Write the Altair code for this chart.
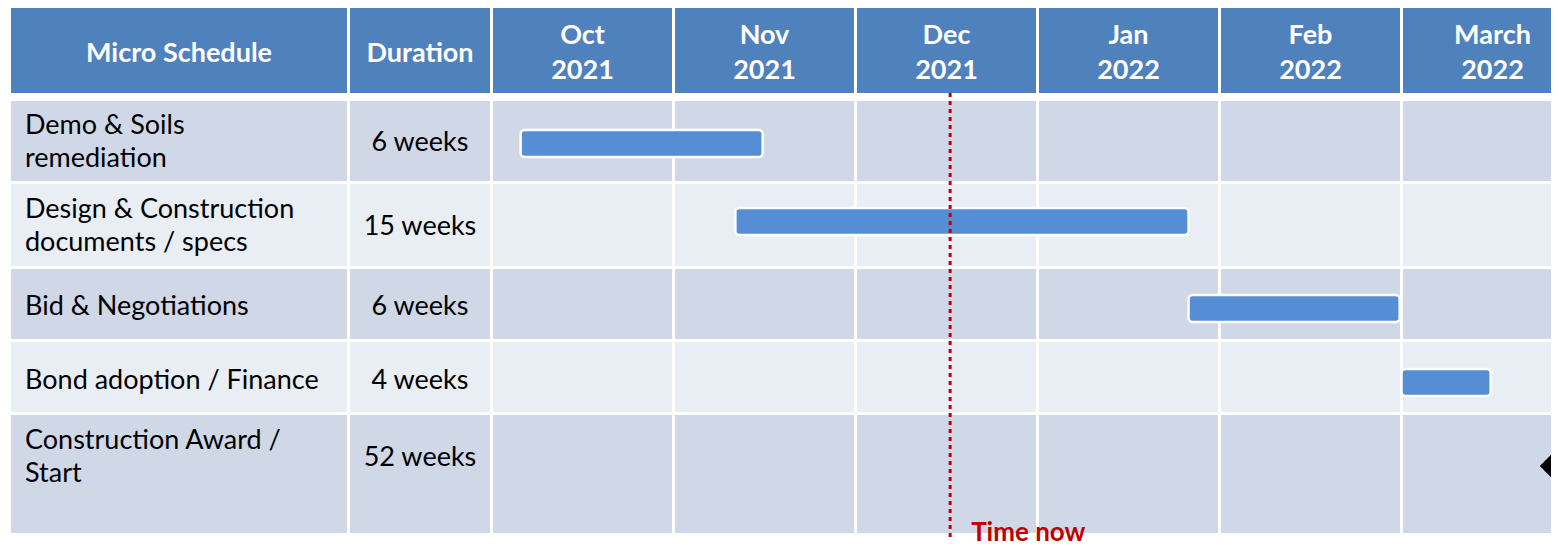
import altair as alt
import pandas as pd

# ---------------- data ----------------
task_lines = [
    ["Demo & Soils", "remediation"],
    ["Design & Construction", "documents / specs"],
    ["Bid & Negotiations"],
    ["Bond adoption / Finance"],
    ["Construction Award /", "Start"],
]
durations = ["6 weeks", "15 weeks", "6 weeks", "4 weeks", "52 weeks"]
header_cols = ["Micro Schedule", "Duration"]
month_names = ["Oct", "Nov", "Dec", "Jan", "Feb", "March"]
month_years = ["2021", "2021", "2021", "2022", "2022", "2022"]
# bars, in months since the start of Oct 2021
bar_start = [0.16, 1.34, 3.83, 5.00]
bar_end = [1.49, 3.83, 4.99, 5.49]
milestone_at = [5.84]
time_now = [2.52]
time_now_label = "Time now"

# ---------------- layout (page pixels) ----------------
W, H = 1543, 540
LEFT, TOP = 8, 8
PX_PER_MONTH = 182.0
MONTH0_PX = 491.5


def m(px):
    return (px - MONTH0_PX) / PX_PER_MONTH


col_edges = [(11, 347), (350, 490)] + [(493 + 182 * k, 672 + 182 * k) for k in range(6)]
row_edges = [(7, 93), (101, 181), (184, 266), (269, 339), (342, 412), (415, 533)]
row_fill = ["#4F81BD", "#D0D8E8", "#E9EDF4", "#D0D8E8", "#E9EDF4", "#D0D8E8"]
text_mid = [53.5, 142.5, 226.5, 306.5, 380.5, 457.5]
bar_mid = [143.5, 221.5, 308.5, 382.5]
bar_half = 13.5
milestone_y = 466
line_gap = 33
label_x = 25
rule_y = (93, 540)
time_label_y = 541

FONT = "Lato"
FS = 27
FS_HEAD = 27

xscale = alt.Scale(domain=[m(LEFT), m(LEFT + W)], nice=False, zero=False)
yscale = alt.Scale(domain=[TOP, TOP + H], reverse=True, nice=False, zero=False)

# cells
cells = []
for r, (y0, y1) in enumerate(row_edges):
    for (x0, x1) in col_edges:
        cells.append({"x0": m(x0), "x1": m(x1), "y0": y0, "y1": y1, "fill": row_fill[r]})
cells_df = pd.DataFrame(cells)

bars_df = pd.DataFrame({
    "start": bar_start,
    "end": bar_end,
    "y0": [c - bar_half for c in bar_mid],
    "y1": [c + bar_half for c in bar_mid],
})

ms_df = pd.DataFrame({"x": milestone_at, "y": [milestone_y]})
now_df = pd.DataFrame({"x": time_now, "y0": [rule_y[0]], "y1": [rule_y[1]],
                       "ty": [time_label_y], "label": [time_now_label]})

# body labels
lab = []
for r, lines in enumerate(task_lines):
    n = len(lines)
    for i, t in enumerate(lines):
        lab.append({"x": m(label_x), "y": text_mid[r + 1] + (i - (n - 1) / 2) * line_gap, "t": t})
lab_df = pd.DataFrame(lab)

dur_df = pd.DataFrame({
    "x": [m((col_edges[1][0] + col_edges[1][1]) / 2)] * len(durations),
    "y": text_mid[1:],
    "t": durations,
})

head = []
for c, t in enumerate(header_cols):
    head.append({"x": m((col_edges[c][0] + col_edges[c][1]) / 2), "y": text_mid[0], "t": t})
for k, (mn, yr) in enumerate(zip(month_names, month_years)):
    cx = k + 0.5
    head.append({"x": cx, "y": text_mid[0] - line_gap / 2 - 1, "t": mn})
    head.append({"x": cx, "y": text_mid[0] + line_gap / 2 + 1, "t": yr})
head_df = pd.DataFrame(head)

X = lambda f: alt.X(f, scale=xscale, axis=None)
Y = lambda f: alt.Y(f, scale=yscale, axis=None)

cells_l = alt.Chart(cells_df).mark_rect().encode(
    x=X("x0:Q"), x2="x1:Q", y=Y("y0:Q"), y2="y1:Q",
    color=alt.Color("fill:N", scale=None),
)
bars_l = alt.Chart(bars_df).mark_rect(
    color="#558ED5", stroke="white", strokeWidth=2.5, cornerRadius=4
).encode(x=X("start:Q"), x2="end:Q", y=Y("y0:Q"), y2="y1:Q")

ms_l = alt.Chart(ms_df).mark_point(
    shape="diamond", filled=True, size=850, color="black", opacity=1
).encode(x=X("x:Q"), y=Y("y:Q"))

rule_l = alt.Chart(now_df).mark_rule(
    color="#C00000", strokeWidth=3, strokeDash=[4, 4]
).encode(x=X("x:Q"), y=Y("y0:Q"), y2="y1:Q")

now_text = alt.Chart(now_df).mark_text(
    align="left", baseline="alphabetic", dx=21, font=FONT, fontSize=26,
    fontWeight="bold", color="#C00000"
).encode(x=X("x:Q"), y=Y("ty:Q"), text="label:N")

lab_l = alt.Chart(lab_df).mark_text(
    align="left", baseline="middle", font=FONT, fontSize=FS, color="black"
).encode(x=X("x:Q"), y=Y("y:Q"), text="t:N")

dur_l = alt.Chart(dur_df).mark_text(
    align="center", baseline="middle", font=FONT, fontSize=FS, color="black"
).encode(x=X("x:Q"), y=Y("y:Q"), text="t:N")

head_l = alt.Chart(head_df).mark_text(
    align="center", baseline="middle", font=FONT, fontSize=FS_HEAD, fontWeight="bold",
    color="white"
).encode(x=X("x:Q"), y=Y("y:Q"), text="t:N")

chart = alt.layer(
    cells_l, bars_l, ms_l, rule_l, now_text, lab_l, dur_l, head_l
).properties(
    width=W, height=H, autosize=alt.AutoSizeParams(type="none"), padding=0
).configure_view(stroke=None)

chart.save("out.html", embed_options={"renderer": "svg", "actions": False})
